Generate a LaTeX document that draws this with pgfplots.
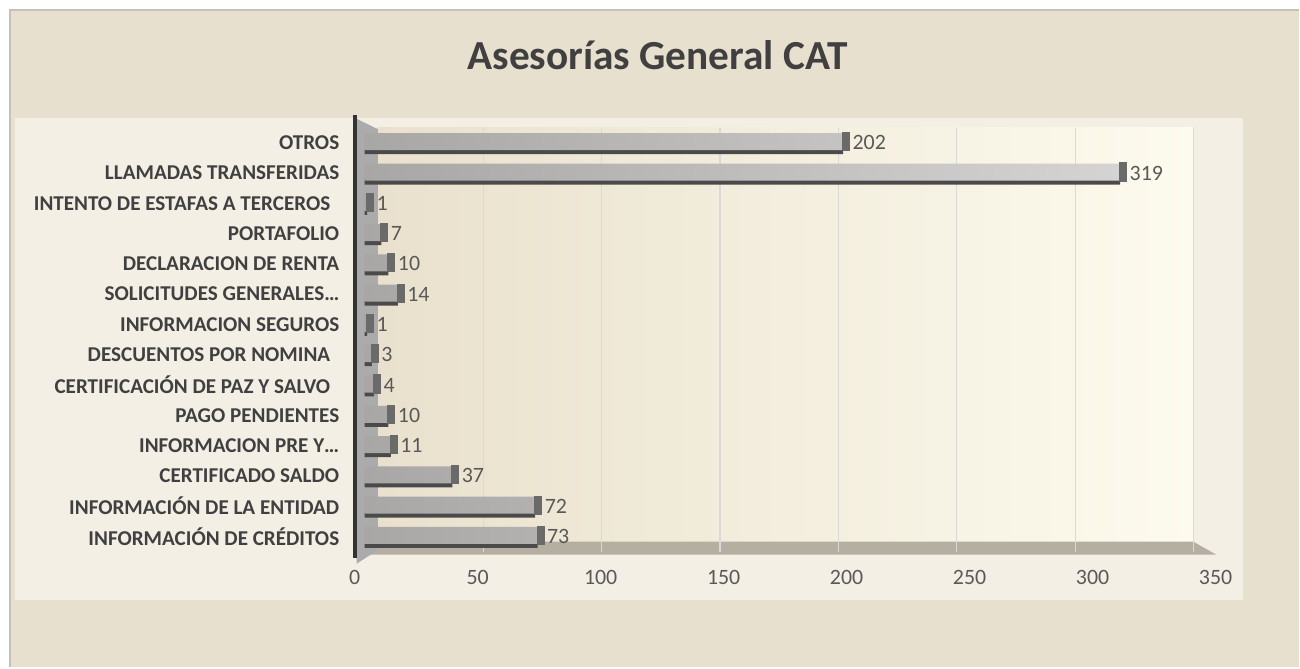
\documentclass[border=0pt]{standalone}
\usepackage{pgfplots}
\pgfplotsset{compat=1.18}
\usepackage{pgfplotstable}
\usepackage{fontspec}
\setmainfont{Carlito}
\definecolor{outerbg}{HTML}{E8E0CE}
\definecolor{innerbg}{HTML}{F3EFE5}
\definecolor{bordergray}{HTML}{C4C1BA}
\definecolor{titlec}{HTML}{404040}
\definecolor{labc}{HTML}{404040}
\definecolor{tickc}{HTML}{595959}
\definecolor{gridc}{HTML}{D9D9D9}
\definecolor{wallc}{HTML}{ABABAB}
\definecolor{floorc}{HTML}{B5AFA2}
\definecolor{darkbar}{HTML}{4A4A4A}
\definecolor{capc}{HTML}{6A6A6A}
\definecolor{barL}{HTML}{A9A6A6}
\definecolor{barR}{HTML}{D6D3D3}
\definecolor{backL}{HTML}{E9E1CD}
\definecolor{backR}{HTML}{FDFBEE}

\pgfplotstableread{
idx val
0 73
1 72
2 37
3 11
4 10
5 4
6 3
7 1
8 14
9 10
10 7
11 1
12 319
13 202
}\datatable

\begin{document}
\begin{tikzpicture}[x=1bp,y=1bp]
\path (0,0) rectangle (1300,668);
% outer background
\fill[outerbg] (10,0) rectangle (1300,658);
\draw[bordergray, line width=2bp] (10,0) -- (10,658) -- (1300,658);
% inner panel
\fill[innerbg] (15,68) rectangle (1244,550);
% back wall
\shade[left color=backL, right color=backR] (378,126) rectangle (1194,540);
% floor
\fill[floorc] (378,126) -- (1194,126) -- (1217,113) -- (357,113) -- cycle;
\begin{axis}[
  at={(365bp,116bp)}, anchor=south west,
  scale only axis, width=829.5bp, height=424.3bp,
  xmin=0, xmax=350, ymin=-0.5, ymax=13.5,
  clip=false,
  axis line style={draw=none},
  tick style={draw=none},
  xtick={0,50,...,350},
  ytick={0,...,13},
  yticklabels={INFORMACIÓN DE CRÉDITOS,INFORMACIÓN DE LA ENTIDAD,CERTIFICADO SALDO,INFORMACION PRE Y…,PAGO PENDIENTES,CERTIFICACIÓN DE PAZ Y SALVO\kern9bp,DESCUENTOS POR NOMINA\kern9bp,INFORMACION SEGUROS,SOLICITUDES GENERALES…,DECLARACION DE RENTA,PORTAFOLIO,INTENTO DE ESTAFAS A TERCEROS\kern9bp,LLAMADAS TRANSFERIDAS,OTROS},
  extra x ticks={50,100,...,350}, extra x tick labels={},
  extra x tick style={grid=major},
  grid style={color=gridc, line width=1.2bp},
  /pgf/number format/assume math mode=true,
  xticklabel style={font=\fontsize{22}{26}\selectfont, text=tickc, yshift=-15bp, xshift={(-10+0.0914*\tick)*1bp}},
  yticklabel style={font=\fontsize{21.2}{25}\selectfont\bfseries, text=labc, xshift=-22bp},
]
% side wall and axis line (decoration)
\fill[wallc] (axis cs:-3.4,13.79) -- (axis cs:5.5,13.45) -- (axis cs:5.5,-0.45) -- (axis cs:-3.4,-0.9) -- cycle;
\draw[line width=3.5bp, color=black!80] (axis cs:-4.2,13.9) -- (axis cs:-4.2,-0.7);
\addplot[xbar, bar width=20bp, bar shift=-1.5bp, fill=darkbar, draw=none] table[x=val, y=idx]{\datatable};
\addplot[only marks, mark=square*, mark size=3.5bp, mark options={fill=capc, draw=capc, line width=0pt, xshift=3bp, yshift=1bp, yscale=2.6}] table[x=val, y=idx]{\datatable};
\addplot[xbar, bar width=17bp, bar shift=1bp, draw=none, left color=barL, right color=barR,
  nodes near coords, every node near coord/.append style={font=\fontsize{22}{26}\selectfont, text=tickc, anchor=west, xshift=6bp}] table[x=val, y=idx]{\datatable};
\end{axis}
\node[anchor=base, text=titlec, font=\fontsize{41.5}{48}\selectfont\bfseries] at (658,598) {Asesorías General CAT};
\end{tikzpicture}
\end{document}
